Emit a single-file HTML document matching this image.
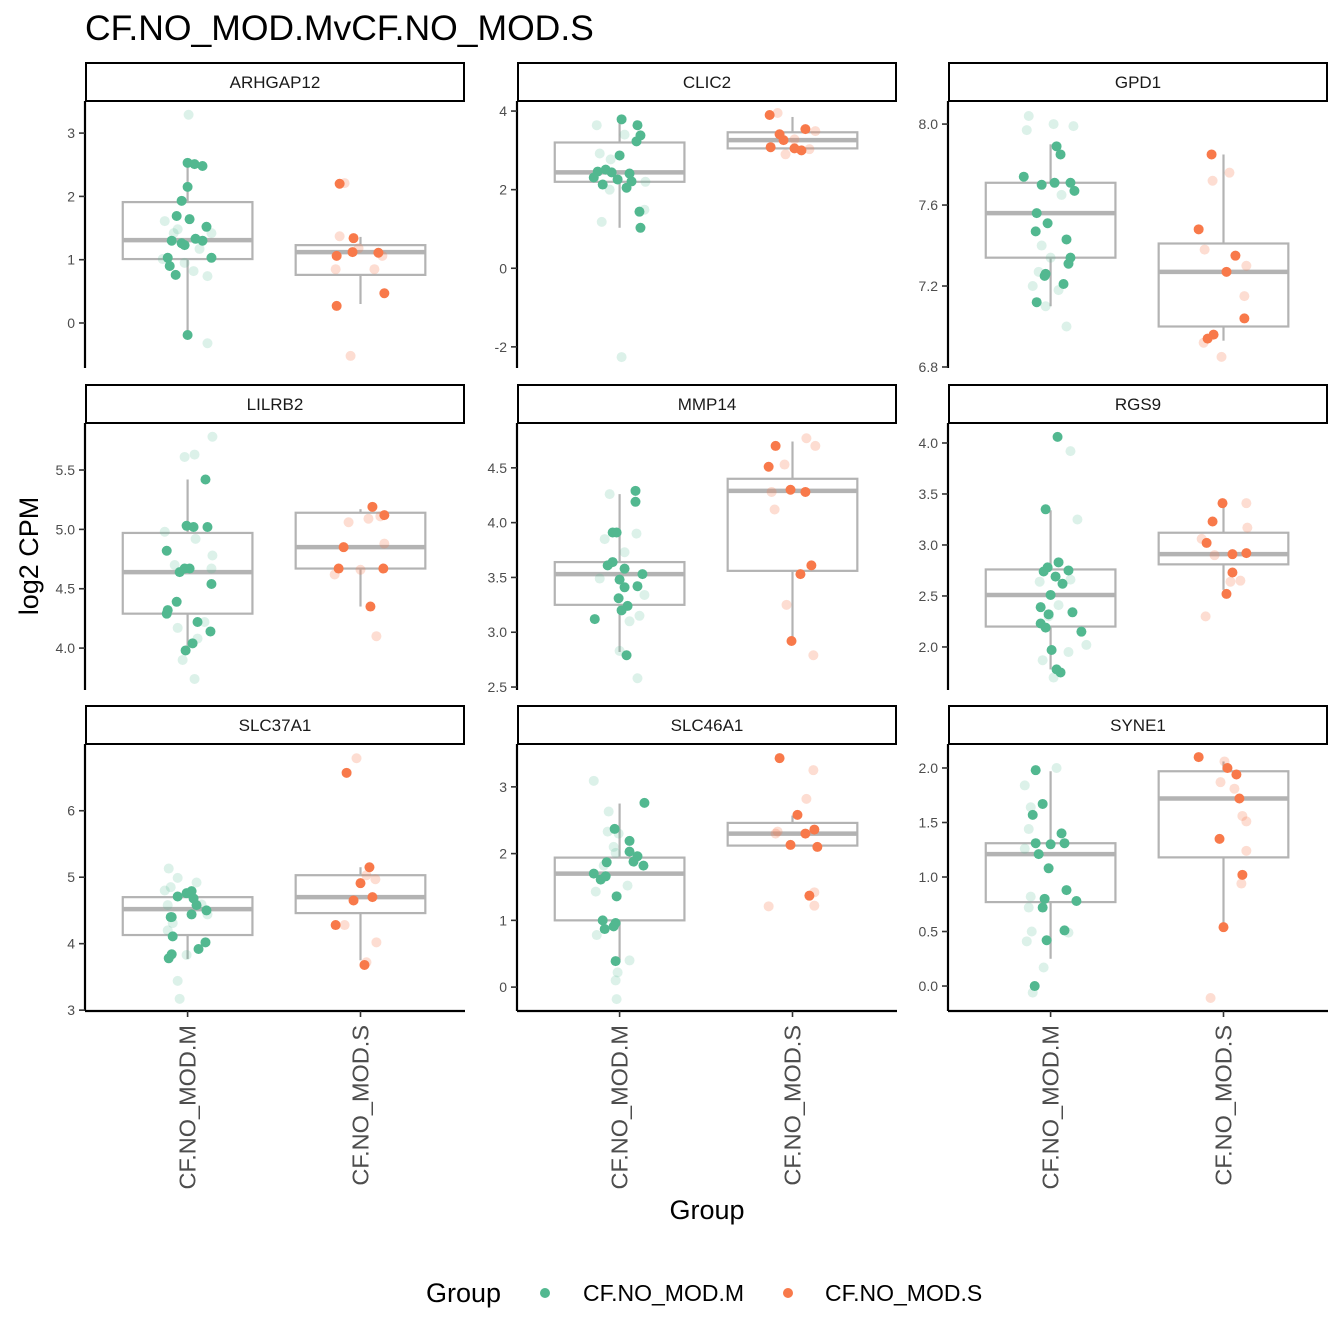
<!DOCTYPE html>
<html><head><meta charset="utf-8"><style>
body{margin:0;background:#fff}
svg{display:block;font-family:"Liberation Sans",Arial,sans-serif}
</style></head><body>
<svg id="c" width="1344" height="1344" viewBox="0 0 1344 1344">
<rect width="1344" height="1344" fill="#fff"/>
<text x="85" y="40" font-size="35.5" fill="#000">CF.NO_MOD.MvCF.NO_MOD.S</text>
<text transform="translate(38,556) rotate(-90)" text-anchor="middle" font-size="27" fill="#000">log2 CPM</text>
<text x="707" y="1219" text-anchor="middle" font-size="27" fill="#000">Group</text>
<g>
<text x="426" y="1302" font-size="27" fill="#000">Group</text>
<g><circle cx="545" cy="1293" r="5" fill="#52b890"/><text x="583" y="1301" font-size="23" fill="#000">CF.NO_MOD.M</text></g>
<g><circle cx="788" cy="1293" r="5" fill="#f8794a"/><text x="825" y="1301" font-size="23" fill="#000">CF.NO_MOD.S</text></g>
</g>
<g id="panels"></g>
</svg>
<script>
const genes=["ARHGAP12","CLIC2","GPD1","LILRB2","MMP14","RGS9","SLC37A1","SLC46A1","SYNE1"];
const groups=["CF.NO_MOD.M","CF.NO_MOD.S"];
const yDomains=[[-0.711,3.507],[-2.538,4.256],[6.795,8.114],[3.647,5.896],[2.473,4.909],[1.578,4.196],[2.987,7.004],[-0.358,3.642],[-0.229,2.22]];
const yTicks=[[0,1,2,3],[-2,0,2,4],[6.8,7.2,7.6,8.0],[4.0,4.5,5.0,5.5],[2.5,3.0,3.5,4.0,4.5],[2.0,2.5,3.0,3.5,4.0],[3,4,5,6],[0,1,2,3],[0.0,0.5,1.0,1.5,2.0]];
const yTickLabels=[["0","1","2","3"],["-2","0","2","4"],["6.8","7.2","7.6","8.0"],["4.0","4.5","5.0","5.5"],["2.5","3.0","3.5","4.0","4.5"],["2.0","2.5","3.0","3.5","4.0"],["3","4","5","6"],["0","1","2","3"],["0.0","0.5","1.0","1.5","2.0"]];
// box stats [lowWhisker, q1, median, q3, highWhisker]
const boxM=[[-0.2,1.01,1.31,1.91,2.53],[1.03,2.2,2.44,3.2,3.8],[7.1,7.34,7.56,7.71,7.9],[3.98,4.29,4.64,4.97,5.42],[2.82,3.25,3.53,3.64,4.26],[1.78,2.2,2.51,2.76,3.34],[3.77,4.13,4.52,4.70,4.70],[0.40,1.0,1.70,1.94,2.75],[0.25,0.77,1.21,1.31,1.97]];
const boxS=[[0.3,0.76,1.12,1.23,1.36],[3.05,3.05,3.26,3.46,3.85],[6.93,7.0,7.27,7.41,7.85],[4.35,4.67,4.85,5.14,5.17],[2.9,3.56,4.29,4.4,4.74],[2.56,2.81,2.91,3.12,3.37],[3.75,4.46,4.70,5.03,5.15],[2.12,2.12,2.30,2.46,2.57],[0.58,1.18,1.72,1.97,2.06]];
const solidM=[
[2.53,2.51,2.48,2.15,1.93,1.64,1.69,1.52,1.30,1.26,1.33,1.30,1.23,1.03,1.03,0.90,0.76,-0.19],
[3.79,3.64,3.38,3.23,2.87,2.46,2.51,2.44,2.41,2.31,2.26,2.21,2.13,2.05,1.44,1.03],
[7.89,7.85,7.74,7.71,7.70,7.71,7.67,7.56,7.51,7.47,7.43,7.34,7.31,7.26,7.25,7.21,7.12],
[5.42,5.03,5.02,5.02,4.82,4.67,4.67,4.64,4.54,4.39,4.32,4.29,4.22,4.14,4.04,3.98],
[4.29,4.19,3.91,3.91,3.61,3.58,3.64,3.53,3.48,3.41,3.42,3.31,3.24,3.2,3.12,2.79],
[4.06,3.35,2.83,2.78,2.75,2.69,2.74,2.62,2.51,2.39,2.34,2.32,2.23,2.19,2.15,1.97,1.78,1.75],
[3.78,3.84,4.11,4.40,4.40,4.71,4.76,4.79,4.68,4.58,4.44,4.50,4.02,3.92],
[2.76,2.37,2.19,2.03,1.96,1.88,1.82,1.87,1.70,1.61,1.66,1.36,1.00,0.87,0.91,0.96,0.39],
[1.98,1.67,1.57,1.40,1.31,1.30,1.31,1.21,1.08,0.88,0.78,0.80,0.72,0.51,0.42,0.0]];
const solidMJit=[
[0,7,15,0,-6,2,-11,19,-16,-6,8,15,-3,24,-20,-18,-12,0],
[2,18,21,17,0,-22,-14,-8,10,-26,-2,12,-17,7,20,21],
[6,10,-27,4,-9,20,24,-14,-3,-15,16,20,18,-5,-6,13,-14],
[18,-1,20,6,-21,-3,2,-8,24,-11,-20,-21,10,23,5,-2],
[16,16,-7,-3,-12,5,-7,23,0,5,18,-1,8,2,-25,7],
[7,-5,8,-3,18,5,-7,12,0,-10,22,-2,-10,-5,31,1,6,10],
[-19,-16,-15,-17,-16,-10,-1,4,6,9,4,19,18,11],
[25,-5,10,10,18,14,24,-13,-26,-19,-14,-3,-17,-15,-6,-4,-4],
[-15,-8,-18,11,14,0,-15,-12,-2,16,26,-6,-8,14,-4,-16]];
const fadedM=[
[3.29,-0.32,1.61,1.42,1.48,1.17,0.95,1.01,0.82,0.74,1.42],
[3.64,2.92,2.2,1.18,-2.26,1.49,2.77,3.4,2.0],
[8.04,7.97,8.0,7.99,7.4,7.65,7.34,7.27,7.18,7.1,7.0,7.2],
[5.78,5.61,5.63,4.98,4.7,4.78,4.67,4.17,4.22,4.08,3.9,3.74,4.92],
[4.26,3.9,3.85,3.73,3.34,3.15,2.83,2.58,3.49,3.1],
[3.92,3.25,2.64,2.66,2.41,2.3,2.02,1.95,1.7,1.87],
[5.13,4.99,4.92,4.80,4.85,4.58,4.31,4.20,3.83,4.44,4.59,3.44,3.17],
[3.09,2.63,2.33,2.30,2.10,2.01,1.82,1.43,1.52,0.78,0.40,0.22,0.10,-0.18],
[2.0,1.84,1.64,1.44,1.26,0.82,0.72,0.5,0.41,0.17,-0.06,0.49]];
const fadedMJit=[
[1,20,-23,24,-10,12,-3,-25,6,20,-14],
[-23,-20,26,-18,2,25,-9,5,-10],
[-22,-24,3,23,-9,11,0,-12,8,-5,16,-18],
[25,-3,7,-23,-13,25,24,-10,17,10,-5,7,8],
[-10,17,-15,5,25,20,0,18,-20,10],
[20,27,-11,20,8,-2,36,18,3,-8],
[-19,-10,9,-23,-17,-20,-15,-20,-1,20,14,-10,-8],
[-26,-11,-12,-1,-6,-4,-16,-24,8,-23,10,-2,-4,-3],
[6,-26,-20,-22,-26,-20,-22,-19,-24,-7,-18,18]];
const solidS=[
[2.20,1.11,1.12,1.34,1.06,0.27,0.47],
[3.9,3.54,3.41,3.26,3.08,3.05,3.0],
[7.85,7.48,7.35,7.27,7.04,6.96,6.94],
[5.19,5.12,4.85,4.67,4.67,4.35],
[4.7,4.51,4.3,4.28,3.61,3.53,2.92],
[3.41,3.23,3.02,2.91,2.92,2.73,2.52],
[6.57,5.15,4.91,4.65,4.70,4.28,3.68],
[3.43,2.58,2.36,2.30,2.13,2.10,1.37],
[2.1,2.0,1.94,1.72,1.35,1.02,0.54]];
const solidSJit=[
[-21,18,-8,-7,-24,-24,24],
[-23,13,-13,-9,-22,2,9],
[-12,-25,12,3,21,-10,-16],
[12,24,-17,-22,23,10],
[-17,-24,-2,13,19,8,-1],
[-1,-11,-17,9,23,9,3],
[-14,9,0,-7,12,-25,4],
[-13,5,22,13,-2,25,17],
[-25,4,13,16,-4,19,0]];
const fadedS=[
[2.21,1.37,1.06,0.85,0.85,-0.52,1.18],
[3.95,3.49,2.9,3.28,3.03],
[7.72,7.76,7.38,7.3,7.15,6.92,6.85],
[5.09,5.11,4.66,4.62,4.88,4.1,5.06],
[4.77,4.53,4.7,4.28,4.12,3.25,2.79],
[3.41,3.17,3.06,2.9,2.65,2.3,2.64],
[6.79,5.03,4.97,4.28,4.02,3.72],
[3.25,2.82,2.33,2.30,1.42,1.22,1.21],
[2.06,1.87,1.56,1.51,1.24,0.94,-0.11,1.81]];
const fadedSJit=[
[-16,-21,22,14,-25,-10,-2],
[-15,23,-7,2,17],
[-11,6,-19,23,21,-20,-2],
[8,20,0,-26,24,16,-12],
[14,-8,23,-21,-18,-6,21],
[23,24,-22,-9,17,-18,7],
[-4,6,15,-16,16,6],
[21,14,-15,-17,22,22,-24],
[1,-3,19,23,23,18,-13,11]];

const NS="http://www.w3.org/2000/svg";
const colM="#52b890", colS="#f8794a";
const colX=[85,517,948], panelW=380, rowStrip=[63,385,706], stripH=38, plotH=267;
function mk(tag,attrs,parent){const e=document.createElementNS(NS,tag);for(const k in attrs)e.setAttribute(k,attrs[k]);parent.appendChild(e);return e;}
const root=document.getElementById('panels');
genes.forEach((g,i)=>{
  const c=i%3,r=Math.floor(i/3);
  const x0=colX[c], top=rowStrip[r]+stripH, bot=top+plotH;
  const [d0,d1]=yDomains[i];
  const y=v=>bot-(v-d0)/(d1-d0)*plotH;
  const xc=k=>x0+panelW*(0.27+0.455*k);
  const band=panelW*0.455;
  const jx=(k,j)=>xc(k)+j*band/174;
  const pg=mk('g',{},root);
  
  
  const st=mk('g',{},pg);
  
  
  mk('rect',{x:x0+1,y:rowStrip[r],width:panelW-2,height:stripH,fill:'#fff',stroke:'#000','stroke-width':2},st);
  const t=mk('text',{x:x0+panelW/2,y:rowStrip[r]+25,'text-anchor':'middle','font-size':17,fill:'#1a1a1a'},st);t.textContent=g;
  const ax=mk('g',{},pg);
  
  
  mk('line',{x1:x0,y1:top,x2:x0,y2:bot,stroke:'#000','stroke-width':2.2},ax);
  yTicks[i].forEach((v,ti)=>{
    mk('line',{x1:x0-6,y1:y(v),x2:x0,y2:y(v),stroke:'#333','stroke-width':1.6},ax);
    const tl=mk('text',{x:x0-10,y:y(v)+5,'text-anchor':'end','font-size':14,fill:'#4d4d4d'},ax);
    
    
    tl.textContent=yTickLabels[i][ti];
  });
  if(r===2){
    const xa=mk('g',{},pg);
    
    
    mk('line',{x1:x0,y1:bot,x2:x0+panelW,y2:bot,stroke:'#000','stroke-width':2.2},xa);
    groups.forEach((gr,k)=>{
      mk('line',{x1:xc(k),y1:bot,x2:xc(k),y2:bot+6,stroke:'#333','stroke-width':1.6},xa);
      const tl=mk('text',{transform:`translate(${xc(k)+8},${bot+14}) rotate(-90)`,'text-anchor':'end','font-size':23.5,fill:'#4d4d4d'},xa);
      
      
      tl.textContent=gr;
    });
  }
  [boxM[i],boxS[i]].forEach((b,k)=>{
    const bg=mk('g',{},pg);
    
    
    const cx=xc(k), hw=band*0.375;
    mk('line',{x1:cx,y1:y(b[0]),x2:cx,y2:y(b[1]),stroke:'#b3b3b3','stroke-width':2.2},bg);
    mk('line',{x1:cx,y1:y(b[3]),x2:cx,y2:y(b[4]),stroke:'#b3b3b3','stroke-width':2.2},bg);
    mk('rect',{x:cx-hw,y:y(b[3]),width:hw*2,height:y(b[1])-y(b[3]),fill:'none',stroke:'#b3b3b3','stroke-width':2.2},bg);
    mk('line',{x1:cx-hw,y1:y(b[2]),x2:cx+hw,y2:y(b[2]),stroke:'#b3b3b3','stroke-width':4.5},bg);
  });
  const pts=[[fadedM[i],fadedMJit[i],0,colM,0.2],[fadedS[i],fadedSJit[i],1,colS,0.25],[solidM[i],solidMJit[i],0,colM,1],[solidS[i],solidSJit[i],1,colS,1]];
  pts.forEach(([vals,jit,k,col,op])=>{
    vals.forEach((v,pi)=>{
      const p=mk('circle',{cx:jx(k,jit[pi]),cy:y(v),r:5,fill:col,'fill-opacity':op},pg);
      
      
    });
  });
});
</script>
</body></html>
